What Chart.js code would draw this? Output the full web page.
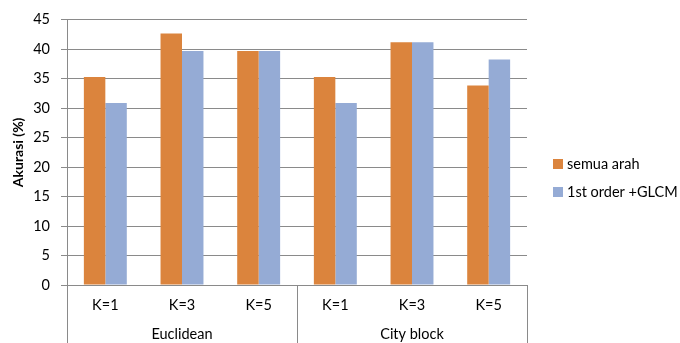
<!DOCTYPE html>
<html><head><meta charset="utf-8">
<script src="https://cdn.jsdelivr.net/npm/chart.js@4"></script>
<style>html,body{margin:0;padding:0;background:#fff}#wrap{width:680px;height:343px}</style>
</head><body><div id="wrap"><canvas id="c" width="680" height="343"></canvas></div>
<script>
const categories = ["K=1","K=3","K=5","K=1","K=3","K=5"];
const groups = ["Euclidean","City block"];
const groupSize = 3;
const semuaArah = [35.29, 42.65, 39.71, 35.29, 41.18, 33.82];
const firstOrderGLCM = [30.88, 39.71, 39.71, 30.88, 41.18, 38.24];
const seriesNames = ["semua arah","1st order +GLCM"];
const yTicks = [0,5,10,15,20,25,30,35,40,45];

const FONT = "Lato, sans-serif";
const FS = 14.5;
const GRID = '#8a8a8a';
const TXT = '#000';

const extras = {
  id:'extras',
  afterDraw(chart){
    const ctx = chart.ctx, x = chart.scales.x, a = chart.chartArea;
    const H = chart.height;
    ctx.save();
    ctx.strokeStyle = GRID; ctx.lineWidth = 1;
    const seps = [a.left];
    for (let g=1; g<groups.length; g++){
      const i = g*groupSize;
      seps.push(Math.round((x.getPixelForValue(i-1)+x.getPixelForValue(i))/2));
    }
    seps.push(a.right);
    seps.forEach(px=>{
      const p = Math.round(px)+0.5;
      ctx.beginPath(); ctx.moveTo(p, a.bottom); ctx.lineTo(p, H); ctx.stroke();
    });
    ctx.fillStyle = TXT; ctx.font = FS + "px " + FONT;
    ctx.textAlign='center'; ctx.textBaseline='middle';
    groups.forEach((g,gi)=>{
      const cx = (x.getPixelForValue(gi*groupSize) + x.getPixelForValue(gi*groupSize+groupSize-1))/2;
      ctx.fillText(g, cx, 334);
    });
    ctx.textAlign='left';
    chart.data.datasets.forEach((ds,i)=>{
      const y = 164 + i*28;
      ctx.fillStyle = ds.backgroundColor;
      ctx.fillRect(553, y-5, 10, 10);
      ctx.fillStyle = TXT;
      ctx.fillText(ds.label, 567, y);
    });
    ctx.restore();
  }
};

new Chart(document.getElementById('c'), {
  type:'bar',
  data:{
    labels: categories,
    datasets:[
      {label: seriesNames[0], data: semuaArah, backgroundColor:'#DB843D'},
      {label: seriesNames[1], data: firstOrderGLCM, backgroundColor:'#95ABD5'}
    ]
  },
  options:{
    responsive:false, animation:false,
    layout:{padding:{top:19,right:153,left:0,bottom:0}},
    plugins:{legend:{display:false}, tooltip:{enabled:false}},
    datasets:{bar:{categoryPercentage:0.56, barPercentage:1.0}},
    scales:{
      x:{
        grid:{display:false, drawTicks:false},
        border:{display:true, color:GRID},
        ticks:{color:TXT, font:{family:FONT,size:FS}, padding:12, maxRotation:0},
        afterFit(s){ s.height = 58; }
      },
      y:{
        min:0, max:45,
        afterBuildTicks(s){ s.ticks = yTicks.map(v=>({value:v})); },
        grid:{color:GRID, tickLength:6, drawTicks:true},
        border:{display:true, color:GRID},
        ticks:{color:TXT, font:{family:FONT,size:FS}, padding:11},
        title:{display:true, text:'Akurasi (%)', color:TXT, font:{family:FONT,size:14,weight:'bold'}, padding:{top:10,bottom:0}},
        afterFit(s){ s.width = 67; }
      }
    }
  },
  plugins:[extras]
});
</script></body></html>
